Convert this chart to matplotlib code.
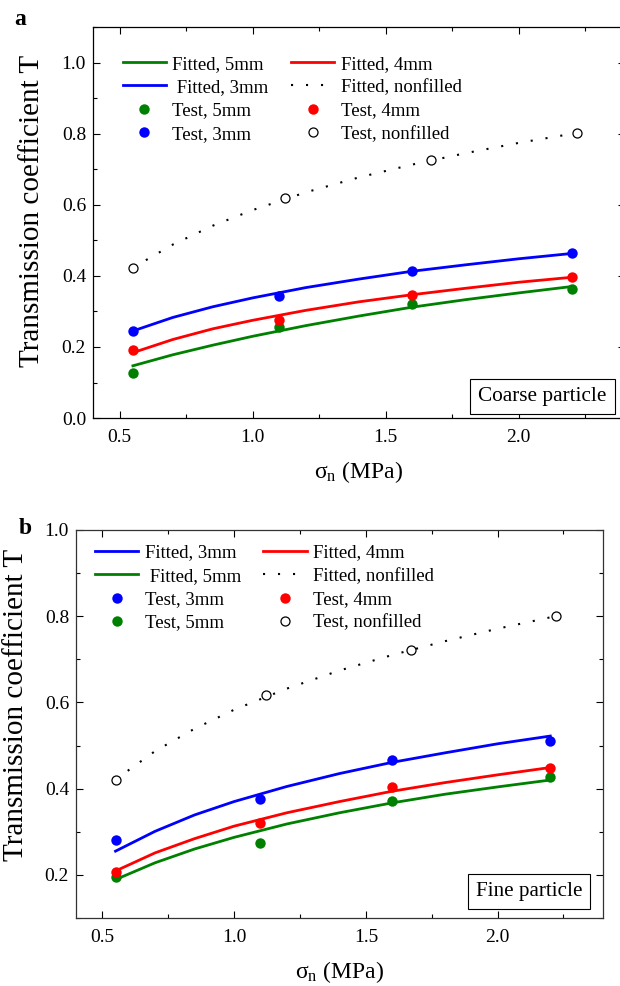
import matplotlib
matplotlib.use("Agg")
import matplotlib.pyplot as plt
from matplotlib.ticker import MultipleLocator, FormatStrFormatter

plt.rcParams['font.family'] = ['Liberation Serif', 'DejaVu Serif']
plt.rcParams['mathtext.fontset'] = 'custom'
plt.rcParams['mathtext.rm'] = 'Liberation Serif'
plt.rcParams['mathtext.it'] = 'Liberation Serif:italic'

# test points (normal stress, MPa)
x_test = [0.55, 1.1, 1.6, 2.2]
x_nonfilled = [0.55, 1.12, 1.67, 2.22]

# fitted curves
x_fit = [0.55, 0.7, 0.85, 1.0, 1.2, 1.4, 1.6, 1.8, 2.0, 2.2]
x_fit_nf = [0.55, 0.7, 0.85, 1.0, 1.2, 1.4, 1.6, 1.8, 2.0, 2.22]

# panel a - coarse particle
a_test_3 = [0.245, 0.343, 0.415, 0.463]
a_test_4 = [0.192, 0.276, 0.346, 0.398]
a_test_5 = [0.127, 0.255, 0.320, 0.362]
a_test_nf = [0.423, 0.619, 0.725, 0.802]
a_fit_3 = [0.245, 0.283, 0.313, 0.338, 0.367, 0.391, 0.413, 0.431, 0.448, 0.463]
a_fit_4 = [0.184, 0.221, 0.251, 0.275, 0.303, 0.327, 0.347, 0.365, 0.382, 0.396]
a_fit_5 = [0.147, 0.178, 0.205, 0.230, 0.260, 0.287, 0.312, 0.333, 0.352, 0.370]
a_fit_nf = [0.423, 0.488, 0.541, 0.585, 0.635, 0.677, 0.713, 0.745, 0.774, 0.802]

# panel b - fine particle
b_test_3 = [0.282, 0.375, 0.467, 0.511]
b_test_4 = [0.206, 0.321, 0.403, 0.448]
b_test_5 = [0.194, 0.275, 0.371, 0.426]
b_test_nf = [0.421, 0.617, 0.722, 0.800]
b_fit_3 = [0.255, 0.301, 0.339, 0.370, 0.405, 0.435, 0.461, 0.483, 0.504, 0.522]
b_fit_4 = [0.209, 0.251, 0.284, 0.313, 0.344, 0.370, 0.394, 0.414, 0.432, 0.449]
b_fit_5 = [0.189, 0.228, 0.260, 0.287, 0.318, 0.344, 0.367, 0.387, 0.404, 0.420]
b_fit_nf = [0.421, 0.487, 0.539, 0.583, 0.632, 0.674, 0.710, 0.742, 0.771, 0.800]

GREEN, RED, BLUE = '#008000', '#ff0000', '#0000ff'
LW = 2.0
MS = 7.5
DOT = (0, (1, 6.2))

fig = plt.figure(figsize=(6.2, 9.86), dpi=100)
ax_a = fig.add_axes([0.150, 0.576, 0.858, 0.3966])
ax_b = fig.add_axes([0.1226, 0.069, 0.850, 0.3935])


def draw(ax, fits, tests, order):
    f3, f4, f5, fnf = fits
    t3, t4, t5, tnf = tests
    h = {}
    h['f5'], = ax.plot(x_fit, f5, color=GREEN, lw=LW)
    h['f4'], = ax.plot(x_fit, f4, color=RED, lw=LW)
    h['f3'], = ax.plot(x_fit, f3, color=BLUE, lw=LW)
    h['fnf'], = ax.plot(x_fit_nf, fnf, color='black', lw=1.5, linestyle=DOT)
    h['t5'], = ax.plot(x_test, t5, 'o', color=GREEN, ms=MS, mec='none')
    h['t4'], = ax.plot(x_test, t4, 'o', color=RED, ms=MS, mec='none')
    h['t3'], = ax.plot(x_test, t3, 'o', color=BLUE, ms=MS, mec='none')
    h['tnf'], = ax.plot(x_nonfilled, tnf, 'o', mfc='white', mec='black',
                        mew=0.9, ms=6.5)
    labels = {'f5': 'Fitted, 5mm', 'f4': 'Fitted, 4mm', 'f3': 'Fitted, 3mm',
              'fnf': 'Fitted, nonfilled', 't5': 'Test, 5mm', 't4': 'Test, 4mm',
              't3': 'Test, 3mm', 'tnf': 'Test, nonfilled'}
    handles = [h[k] for k, _ in order]
    labs = [(' ' if pad else '') + labels[k] for k, pad in order]
    return handles, labs


def style(ax, ylo, yhi):
    ax.set_xlim(0.4, 2.4)
    ax.set_ylim(ylo, yhi)
    ax.xaxis.set_major_locator(MultipleLocator(0.5))
    ax.xaxis.set_minor_locator(MultipleLocator(0.25))
    ax.yaxis.set_major_locator(MultipleLocator(0.2))
    ax.yaxis.set_minor_locator(MultipleLocator(0.1))
    ax.xaxis.set_major_formatter(FormatStrFormatter('%.1f'))
    ax.yaxis.set_major_formatter(FormatStrFormatter('%.1f'))
    ax.tick_params(which='both', direction='in', top=True, right=True,
                   labelsize=14, width=0.8)
    ax.tick_params(axis='x', which='both', pad=8)
    ax.tick_params(axis='y', which='both', pad=5)
    ax.tick_params(which='major', length=5)
    ax.tick_params(which='minor', length=3)
    for s in ax.spines.values():
        s.set_linewidth(0.9)
    ax.set_xlabel('σ$_\\mathrm{n}$ (MPa)', fontsize=17, labelpad=9)
    ax.set_ylabel('Transmission coefficient T', fontsize=21)


LEG = dict(ncol=2, loc='upper left', frameon=False, fontsize=13.5,
           handlelength=2.3, handletextpad=0.35, columnspacing=1.2,
           labelspacing=0.33, borderpad=0, borderaxespad=0)
BOX = dict(boxstyle='square,pad=0.38', fc='white', ec='black', lw=0.8)

# panel a
ha, la = draw(ax_a, (a_fit_3, a_fit_4, a_fit_5, a_fit_nf),
              (a_test_3, a_test_4, a_test_5, a_test_nf),
              [('f5', 0), ('f3', 1), ('t5', 0), ('t3', 0),
               ('f4', 0), ('fnf', 0), ('t4', 0), ('tnf', 0)])
style(ax_a, 0.0, 1.1)
ax_a.yaxis.set_label_coords(-0.09, 0.53)
ax_a.legend(ha, la, bbox_to_anchor=(0.056, 0.927), **LEG)
ax_a.text(0.966, 0.03, 'Coarse particle', transform=ax_a.transAxes,
          ha='right', va='bottom', fontsize=15.3, bbox=BOX)
fig.text(0.032, 0.98, 'a', fontsize=17, fontweight='bold', ha='center', va='center')

# panel b
hb, lb = draw(ax_b, (b_fit_3, b_fit_4, b_fit_5, b_fit_nf),
              (b_test_3, b_test_4, b_test_5, b_test_nf),
              [('f3', 0), ('f5', 1), ('t3', 0), ('t5', 0),
               ('f4', 0), ('fnf', 0), ('t4', 0), ('tnf', 0)])
style(ax_b, 0.1, 1.0)
ax_b.yaxis.set_label_coords(-0.09, 0.55)
ax_b.legend(hb, lb, bbox_to_anchor=(0.036, 0.963), **LEG)
ax_b.text(0.961, 0.044, 'Fine particle', transform=ax_b.transAxes,
          ha='right', va='bottom', fontsize=15.2, bbox=BOX)
for s in ax_b.spines.values():
    s.set_color('#333333')
fig.text(0.04, 0.4645, 'b', fontsize=17, fontweight='bold', ha='center', va='center')

fig.savefig('out.png', dpi=100)
